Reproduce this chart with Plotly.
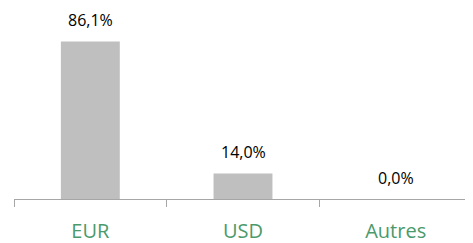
import plotly.graph_objects as go

categories = ["EUR", "USD", "Autres"]
values = [86.1, 14.0, 0.0]
labels = ["86,1%", "14,0%", "0,0%"]

fig = go.Figure()
fig.add_trace(go.Bar(
    x=categories, y=values,
    marker=dict(color="#bfbfbf", line=dict(width=0)),
    hoverinfo="skip",
))

for c, v, t in zip(categories, values, labels):
    fig.add_annotation(
        x=c, y=v, text=t, showarrow=False,
        yanchor="bottom", yshift=8,
        font=dict(family="Open Sans", size=16, color="#000000"),
    )

# the page body adds an 8px margin, so the figure is 8px smaller and shifted
fig.update_layout(
    width=465, height=235,
    margin=dict(l=6, r=1, t=8, b=44, autoexpand=False),
    paper_bgcolor="white", plot_bgcolor="white",
    bargap=0.614,
    showlegend=False,
    xaxis=dict(
        type="category",
        automargin=False,
        tickson="boundaries",
        ticks="outside", ticklen=7, tickwidth=1, tickcolor="#a6a6a6",
        showline=True, linecolor="#a6a6a6", linewidth=1,
        showgrid=False,
        tickfont=dict(family="Open Sans", size=20, color="#4a9a6c"),
        ticklabelstandoff=14,
    ),
    yaxis=dict(range=[0, 100], visible=False, showgrid=False, zeroline=False,
               automargin=False),
)

fig.write_html("out.html")
